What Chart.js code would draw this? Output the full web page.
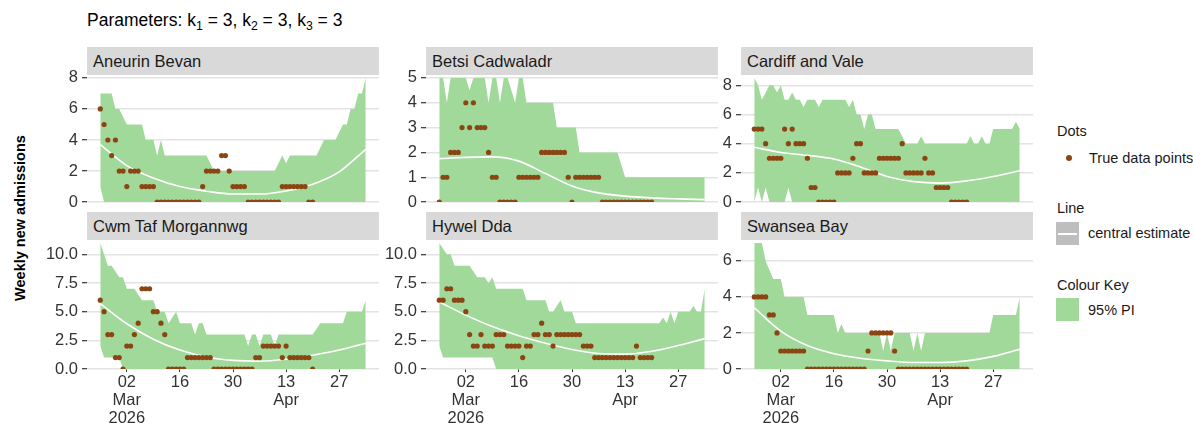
<!DOCTYPE html>
<html>
<head>
<meta charset="utf-8">
<script src="https://cdn.jsdelivr.net/npm/chart.js@4.4.1/dist/chart.umd.min.js"></script>
<style>
  body { margin: 0; background: #fff; font-family: "Liberation Sans", Arial, sans-serif; }
  #page { position: relative; width: 1193px; height: 423px; overflow: hidden; background: #fff; }
  canvas { position: absolute; }
  .strip { position: absolute; background: #d9d9d9; color: #1a1a1a; font-size: 16.5px; line-height: 28px; height: 28px; padding-left: 6px; box-sizing: border-box; white-space: nowrap; }
  #title { position: absolute; left: 87px; top: 9px; font-size: 17.5px; line-height: 22px; color: #000; white-space: nowrap; }
  #title sub { font-size: 70%; vertical-align: -0.3em; line-height: 0; }
  #ytitle { position: absolute; left: 20px; top: 218px; transform: translate(-50%, -50%) rotate(-90deg); font-size: 14.5px; font-weight: bold; color: #000; white-space: nowrap; }
  .lg { position: absolute; font-size: 14.5px; color: #1a1a1a; white-space: nowrap; line-height: 18px; }
  .key { position: absolute; width: 23px; height: 23px; }
</style>
</head>
<body>
<div id="page">
  <div id="title">Parameters: k<sub>1</sub> = 3, k<sub>2</sub> = 3, k<sub>3</sub> = 3</div>
  <div id="ytitle">Weekly new admissions</div>

  <div class="lg" style="left:1057px; top:122px;">Dots</div>
  <div class="key" style="left:1066px; top:155px; width:6px; height:6px; border-radius:50%; background:#8b4513;"></div>
  <div class="lg" style="left:1089px; top:149px;">True data points</div>

  <div class="lg" style="left:1057px; top:199px;">Line</div>
  <div class="key" style="left:1056px; top:222px; background:#bebebe;">
    <div style="position:absolute; left:2px; right:2px; top:11px; height:1.5px; background:#fff;"></div>
  </div>
  <div class="lg" style="left:1088px; top:224px;">central estimate</div>

  <div class="lg" style="left:1057px; top:276px;">Colour Key</div>
  <div class="key" style="left:1056px; top:298px; background:#a1d99b;"></div>
  <div class="lg" style="left:1088px; top:301px;">95% PI</div>
</div>
<script>
// days counted from 23 Feb 2026
const regions = ['Aneurin Bevan', 'Betsi Cadwaladr', 'Cardiff and Vale', 'Cwm Taf Morgannwg', 'Hywel Dda', 'Swansea Bay'];
const tickDays = [7, 21, 35, 49, 63];
const tickLabels = [['02', 'Mar', '2026'], '16', '30', ['13', 'Apr'], '27'];
const centralDays = [0, 7, 14, 21, 28, 35, 42, 49, 56, 63, 70];

// true data points (one per day, 57 days)
const obsAneurin = [6,5,4,3,4,2,2,1,2,2, 2,1,1,1,1,0,0,0,0,0, 0,0,0,0,0,0,0,1,2,2, 2,2,3,3,2,1,1,1,1,0, 0,0,0,0,0,0,0,0,1,1, 1,1,1,1,1,0,0];
const obsBetsi = [0,1,1,2,2,2,3,4,3,4, 3,3,3,2,1,1,0,0,0,0, 0,1,1,1,1,1,1,2,2,2, 2,2,2,2,1,0,1,1,1,1, 1,1,1,0,0,0,0,0,0,0, 0,0,0,0,0,0,0];
const obsCardiff = [5,5,5,4,3,3,3,3,5,4, 5,4,4,4,3,1,1,0,0,0, 0,0,2,2,2,2,3,4,4,2, 2,2,2,3,3,3,3,3,3,4, 2,2,2,2,2,3,2,2,1,1, 1,1,0,0,0,0,0];
const obsCwm = [6,5,3,3,1,1,0,2,2,3, 4,7,7,7,5,5,4,3,0,0, 0,0,0,1,1,1,1,1,1,1, 0,0,0,0,0,0,0,0,0,0, 0,1,1,2,2,2,2,2,1,2, 1,1,1,1,1,1,0];
const obsHywel = [6,6,7,7,6,6,6,5,3,2, 2,3,2,2,2,3,3,3,2,2, 2,2,1,2,2,3,3,4,3,3, 2,3,3,3,3,3,3,3,2,2, 2,1,1,1,1,1,1,1,1,1, 1,1,2,1,1,1,1];
const obsSwansea = [4,4,4,4,3,3,2,1,1,1, 1,1,1,1,0,0,0,0,0,0, 0,0,0,0,0,0,0,0,0,0, 1,2,2,2,2,2,2,1,0,0, 0,0,0,0,0,0,0,0,0,0, 0,0,0,0,0,0,0];

// 95% PI upper bound (71 days)
const upperAneurin = [7,7,7,7,6,6,5.5,5,5,5, 5,5,4,4,4,3,4,3,3,3, 3,3,3,3,3,3,3,3,3,2.5, 2,2,2,2,2,2,2,2,2,2, 2,2,2,2,2,2,2,2.5,3,2.5, 3,3,3,3,3,3,3,3,3.5,4, 4,4,4,4.5,5,5,6,6,7,7, 8];
const upperBetsi = [5,5,4,5,5,5,5,5,4.5,5, 5,5,5,4,5,5,4,5,5,4.5, 4,5,5,4,4,4,4,4,4,4, 4,3,3,3,3,3,3,2,2,2, 2,2,2,2,2,2,2,2,1.5,1, 1,1,1,1,1,1,1,1,1,1, 1,1,1,1,1,1,1,1,1,1, 1];
const upperCardiff = [8.5,8,7,7.5,8,8,7.5,8,7,7, 7.5,7,7,6.5,7,7,7,6.5,7,7, 7,7,7,7,7,6.5,7,6,6,5, 6,6,5,5,5,5,5,5,5,4.5, 4,4,4,4,4.5,4,4,4,4,4, 4,4,4,4,4,4,4,4.5,4,4, 4.5,4,4,5,5,5,5,5,5,5.5, 5];
const upperCwm = [11,10,9,9,8.5,8,8,7,7,7, 6.5,6,6,6,6,5,5,5,4,4.5, 5,4,4,4,4,3,4,4,3,3, 3,3,3,3,3,3,3,3,3,2, 3,3,2,3,3,3,2,3,3,3, 3,3,3,3,3,3,3,3.5,4,4, 4,4,4,4,4,5,5,5,5,5, 6];
const upperHywel = [11,10.5,10,10,9,9,9,9,9,8.5, 8,8,8,7.5,8,7,7,7,7,7, 7,7,7,6,6,6,6,6,6,5, 5,5.5,6,5,5,5,4,4,4,4, 4,4,4,4,4,4,4,4,4,4, 4,4,4,4,4,4,4,4,4,4.5, 4,5,4,5,5,5,5,5.5,5,5, 7];
const upperSwansea = [8,7.5,7,6,5.5,5,5,5,4,4, 4,4,4,4,3,3,3,3,3,3, 3,3,2,2.5,2,2,2,2,2,2, 2,2,2,2,1,2,1,2,2,2, 2,2,1,2,1,2,2,2,2,2, 2,2,2,2,2,2,2,2,2,2, 2,2,2,3,3,3,3,3,3,3, 4];

// 95% PI lower bound (71 days)
const lowerAneurin = [1,0,0,0,0,0,0,0,0,0, 0,0,0,0,0,0,0,0,0,0, 0,0,0,0,0,0,0,0,0,0, 0,0,0,0,0,0,0,0,0,0, 0,0,0,0,0,0,0,0,0,0, 0,0,0,0,0,0,0,0,0,0, 0,0,0,0,0,0,0,0,0,0, 0];
const lowerBetsi = [0,0,0,0,0,0,0,0,0,0, 0,0,0,0,0,0,0,0,0,0, 0,0,0,0,0,0,0,0,0,0, 0,0,0,0,0,0,0,0,0,0, 0,0,0,0,0,0,0,0,0,0, 0,0,0,0,0,0,0,0,0,0, 0,0,0,0,0,0,0,0,0,0, 0];
const lowerCardiff = [0,1,0,1,0,0,0,0,0,1, 0,0,0,0,0,0,0,0,0,0, 0,0,0,0,0,0,0,0,0,0, 0,0,0,0,0,0,0,0,0,0, 0,0,0,0,0,0,0,0,0,0, 0,0,0,0,0,0,0,0,0,0, 0,0,0,0,0,0,0,0,0,0, 0];
const lowerCwm = [2,1,1,1,1,1,0,0,0,0, 0,0,0,0,0,0,0,0,0,0, 0,0,0,0,0,0,0,0,0,0, 0,0,0,0,0,0,0,0,0,0, 0,0,0,0,0,0,0,0,0,0, 0,0,0,0,0,0,0,0,0,0, 0,0,0,0,0,0,0,0,0,0, 0];
const lowerHywel = [2,1,1,1,1,1,1,1,1,1, 1,1,1,1,1,0,0,0,0,0, 0,0,0,0,0,0,0,0,0,0, 0,0,0,0,0,0,0,0,0,0, 0,0,0,0,0,0,0,0,0,0, 0,0,0,0,0,0,0,0,0,0, 0,0,0,0,0,0,0,0,0,0, 0];
const lowerSwansea = [0,0,0,0,0,0,0,0,0,0, 0,0,0,0,0,0,0,0,0,0, 0,0,0,0,0,0,0,0,0,0, 0,0,0,0,0,0,0,0,0,0, 0,0,0,0,0,0,0,0,0,0, 0,0,0,0,0,0,0,0,0,0, 0,0,0,0,0,0,0,0,0,0, 0];

// central estimate, read weekly (at centralDays)
const centralAneurin = [3.7, 2.35, 1.55, 1.0, 0.7, 0.52, 0.52, 0.72, 1.15, 1.95, 3.4];
const centralBetsi = [1.75, 1.8, 1.82, 1.65, 1.15, 0.65, 0.37, 0.24, 0.17, 0.13, 0.1];
const centralCardiff = [3.75, 3.4, 3.2, 2.95, 2.4, 1.75, 1.4, 1.3, 1.45, 1.75, 2.15];
const centralCwm = [5.7, 3.95, 2.6, 1.65, 1.05, 0.75, 0.68, 0.85, 1.2, 1.65, 2.25];
const centralHywel = [5.85, 4.7, 3.7, 2.9, 2.25, 1.7, 1.35, 1.3, 1.55, 2.05, 2.65];
const centralSwansea = [3.4, 2.1, 1.3, 0.85, 0.6, 0.45, 0.36, 0.36, 0.45, 0.7, 1.1];

const yMax = [8, 5, 8.5, 11, 11, 7];
const yTicks = [[0,2,4,6,8], [0,1,2,3,4,5], [0,2,4,6,8], [0,2.5,5,7.5,10], [0,2.5,5,7.5,10], [0,2,4,6]];

const panels = [
  { obs: obsAneurin, upper: upperAneurin, lower: lowerAneurin, central: centralAneurin },
  { obs: obsBetsi, upper: upperBetsi, lower: lowerBetsi, central: centralBetsi },
  { obs: obsCardiff, upper: upperCardiff, lower: lowerCardiff, central: centralCardiff },
  { obs: obsCwm, upper: upperCwm, lower: lowerCwm, central: centralCwm },
  { obs: obsHywel, upper: upperHywel, lower: lowerHywel, central: centralHywel },
  { obs: obsSwansea, upper: upperSwansea, lower: lowerSwansea, central: centralSwansea }
];

// layout of the facet grid
const colLeft = [87, 426, 741];
const rowTop = [76, 241];
const plotW = 292, plotH = 128;
const axisW = 62, padTop = 12, padRight = 8, padBottom = 12, xAxisH = 56;

Chart.defaults.font.family = '"Liberation Sans", Arial, sans-serif';
Chart.defaults.color = '#333';
Chart.defaults.animation = false;

const page = document.getElementById('page');

panels.forEach(function(p, i) {
  const r = Math.floor(i / 3), c = i % 3;
  const bottomRow = r === 1;

  // strip label
  const strip = document.createElement('div');
  strip.className = 'strip';
  strip.style.left = colLeft[c] + 'px';
  strip.style.top = (rowTop[r] - 29) + 'px';
  strip.style.width = plotW + 'px';
  strip.textContent = regions[i];
  page.appendChild(strip);

  const w = axisW + plotW + padRight;
  const h = padTop + plotH + (bottomRow ? xAxisH : padBottom);
  const canvas = document.createElement('canvas');
  canvas.width = w;
  canvas.height = h;
  canvas.style.left = (colLeft[c] - axisW) + 'px';
  canvas.style.top = (rowTop[r] - padTop) + 'px';
  canvas.style.width = w + 'px';
  canvas.style.height = h + 'px';
  page.appendChild(canvas);

  const decimals = yTicks[i].some(function(v) { return v % 1 !== 0; });

  new Chart(canvas.getContext('2d'), {
    type: 'line',
    data: {
      datasets: [
        {
          label: 'True data points',
          data: p.obs.map(function(v, d) { return { x: d, y: v }; }),
          showLine: false,
          pointRadius: 2.6,
          pointBackgroundColor: '#8b4513',
          pointBorderWidth: 0,
          order: 0
        },
        {
          label: 'central estimate',
          data: p.central.map(function(v, k) { return { x: centralDays[k], y: v }; }),
          borderColor: '#ffffff',
          borderWidth: 1.6,
          pointRadius: 0,
          cubicInterpolationMode: 'monotone',
          fill: false,
          order: 1
        },
        {
          label: '95% PI',
          data: p.upper.map(function(v, d) { return { x: d, y: v }; }),
          borderWidth: 0,
          borderColor: 'rgba(0,0,0,0)',
          backgroundColor: '#a1d99b',
          pointRadius: 0,
          tension: 0,
          fill: '+1',
          order: 2
        },
        {
          label: 'lower',
          data: p.lower.map(function(v, d) { return { x: d, y: v }; }),
          borderWidth: 0,
          borderColor: 'rgba(0,0,0,0)',
          pointRadius: 0,
          tension: 0,
          fill: false,
          order: 3
        }
      ]
    },
    options: {
      responsive: false,
      animation: false,
      layout: { padding: { left: 0, right: padRight, top: padTop, bottom: bottomRow ? 0 : padBottom } },
      plugins: { legend: { display: false }, tooltip: { enabled: false } },
      scales: {
        x: {
          type: 'linear',
          min: -3.5,
          max: 73.5,
          display: bottomRow,
          afterBuildTicks: function(scale) {
            scale.ticks = tickDays.map(function(v) { return { value: v }; });
          },
          afterFit: function(scale) { if (bottomRow) scale.height = xAxisH; },
          grid: { drawOnChartArea: false, drawTicks: true, tickLength: 3, tickColor: '#333' },
          border: { display: false },
          ticks: {
            autoSkip: false,
            maxRotation: 0,
            padding: 1,
            color: '#333',
            font: { size: 16.5, lineHeight: 1.1 },
            callback: function(v, idx) { return tickLabels[idx]; }
          }
        },
        y: {
          type: 'linear',
          min: 0,
          max: yMax[i],
          afterBuildTicks: function(scale) {
            scale.ticks = yTicks[i].map(function(v) { return { value: v }; });
          },
          afterFit: function(scale) { scale.width = axisW; },
          grid: { color: '#e3e3e3', lineWidth: 1.4, drawTicks: true, tickLength: 5, tickColor: '#333', tickWidth: 1.2 },
          border: { display: false },
          ticks: {
            autoSkip: false,
            padding: 4,
            color: '#333',
            font: { size: 16.5 },
            callback: function(v) { return decimals ? v.toFixed(1) : String(v); }
          }
        }
      }
    }
  });
});
</script>
</body>
</html>
